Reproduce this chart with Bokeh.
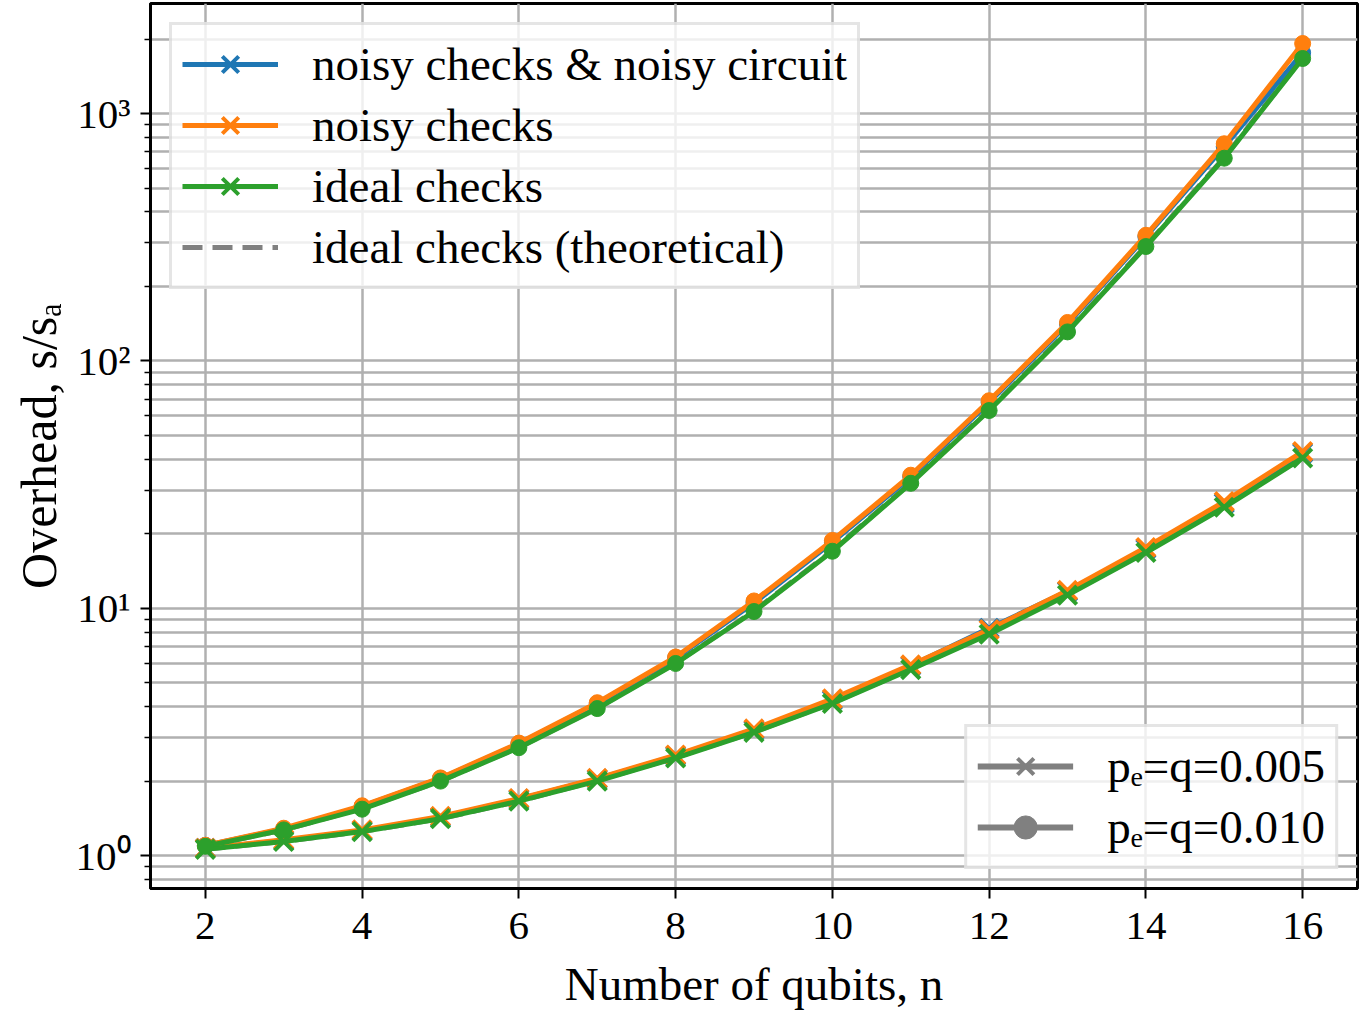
from bokeh.plotting import figure
from bokeh.models import Range1d, FixedTicker, CustomJSTickFormatter, Legend, LegendItem
from bokeh.embed import file_html
from bokeh.resources import INLINE

# ---------------- data ----------------
n_qubits = [2, 3, 4, 5, 6, 7, 8, 9, 10, 11, 12, 13, 14, 15, 16]

# p_e = q = 0.010 (dots)
noisy_full_010 = [1.10, 1.28, 1.58, 2.05, 2.83, 4.12, 6.30, 10.5, 18.5, 34.0, 68.0, 141, 318, 735, 1760]
noisy_checks_010 = [1.10, 1.29, 1.59, 2.06, 2.85, 4.15, 6.35, 10.7, 18.8, 34.5, 69.0, 143, 322, 755, 1920]
ideal_checks_010 = [1.09, 1.27, 1.54, 2.00, 2.73, 3.93, 5.98, 9.70, 17.0, 32.0, 63.0, 131, 290, 660, 1670]
ideal_theory_010 = [1.09, 1.27, 1.55, 2.00, 2.74, 3.95, 6.00, 9.75, 17.1, 32.2, 63.5, 132, 292, 665, 1680]

# p_e = q = 0.005 (crosses)
noisy_full_005 = [1.07, 1.15, 1.26, 1.43, 1.69, 2.04, 2.53, 3.22, 4.25, 5.85, 8.30, 11.7, 17.4, 26.6, 42.5]
noisy_checks_005 = [1.07, 1.16, 1.27, 1.44, 1.70, 2.05, 2.55, 3.25, 4.30, 5.90, 8.20, 11.8, 17.6, 27.0, 43.0]
ideal_checks_005 = [1.06, 1.14, 1.25, 1.41, 1.66, 2.00, 2.48, 3.15, 4.12, 5.65, 7.85, 11.3, 16.8, 25.6, 40.5]
ideal_theory_005 = [1.06, 1.14, 1.25, 1.41, 1.66, 2.01, 2.49, 3.16, 4.14, 5.68, 7.90, 11.4, 16.9, 25.8, 40.8]

series_labels = ["noisy checks & noisy circuit", "noisy checks", "ideal checks", "ideal checks (theoretical)"]
p_labels = ["p\u2091=q=0.005", "p\u2091=q=0.010"]
x_tick_values = [2, 4, 6, 8, 10, 12, 14, 16]
y_tick_values = [1, 10, 100, 1000]
x_label = "Number of qubits, n"
y_label = "Overhead, s/s\u2090"

# ---------------- style ----------------
FONT = "Liberation Serif"
BLUE, ORANGE, GREEN, GRAY = "#1f77b4", "#ff7f0e", "#2ca02c", "#808080"
GRID = "#b0b0b0"
LW = 5
XSIZE = 26
DOTSIZE = 16
NAN = float("nan")

p = figure(width=1359, height=1014, y_axis_type="log",
           x_range=Range1d(1.3, 16.7), y_range=Range1d(0.736, 2786),
           output_backend="svg", toolbar_location=None,
           min_border_left=150, min_border_right=2, min_border_top=3, min_border_bottom=126)

p.background_fill_color = "white"
p.border_fill_color = "white"
p.outline_line_color = "black"
p.outline_line_width = 3

minor = []
for dec in [0.1, 1, 10, 100, 1000]:
    for k in range(2, 10):
        minor.append(dec * k)

p.xaxis.ticker = FixedTicker(ticks=x_tick_values, minor_ticks=[])
p.yaxis.ticker = FixedTicker(ticks=y_tick_values, minor_ticks=minor)
p.yaxis.formatter = CustomJSTickFormatter(code="""
const sup = {'0':'\u2070','1':'\u00b9','2':'\u00b2','3':'\u00b3','4':'\u2074'};
const e = Math.round(Math.log10(tick));
return '10' + String(e).split('').map(c => sup[c]).join('');
""")

p.xgrid.grid_line_color = GRID
p.xgrid.grid_line_width = 2.5
p.ygrid.grid_line_color = GRID
p.ygrid.grid_line_width = 2.5
p.ygrid.minor_grid_line_color = GRID
p.ygrid.minor_grid_line_width = 2.5

for ax in [p.xaxis[0], p.yaxis[0]]:
    ax.axis_line_color = "black"
    ax.axis_line_width = 3
    ax.major_tick_line_color = "black"
    ax.major_tick_line_width = 2
    ax.major_tick_out = 10
    ax.major_tick_in = 0
    ax.minor_tick_line_color = "black"
    ax.minor_tick_line_width = 1.5
    ax.minor_tick_out = 6
    ax.minor_tick_in = 0
    ax.major_label_text_font = FONT
    ax.major_label_text_font_size = "41px"
    ax.major_label_text_color = "black"
    ax.axis_label_text_font = FONT
    ax.axis_label_text_font_style = "normal"
    ax.axis_label_text_color = "black"

p.xaxis.axis_label_text_font_size = "47px"
p.yaxis.axis_label_text_font_size = "50px"
p.xaxis.axis_label = x_label
p.yaxis.axis_label = y_label
p.xaxis.major_label_standoff = 14
p.xaxis.axis_label_standoff = 16
p.yaxis.major_label_standoff = 10
p.yaxis.axis_label_standoff = 6

# theoretical (drawn first, beneath)
th1 = p.line(n_qubits, ideal_theory_005, line_color=GRAY, line_width=LW, line_dash="20 10")
th2 = p.line(n_qubits, ideal_theory_010, line_color=GRAY, line_width=LW, line_dash="20 10")

items = []
for color, s005, s010 in [(BLUE, noisy_full_005, noisy_full_010),
                          (ORANGE, noisy_checks_005, noisy_checks_010),
                          (GREEN, ideal_checks_005, ideal_checks_010)]:
    l1 = p.line(n_qubits, s005, line_color=color, line_width=LW)
    m1 = p.scatter(n_qubits, s005, marker="x", size=XSIZE, line_color=color, line_width=4)
    p.line(n_qubits, s010, line_color=color, line_width=LW)
    p.scatter(n_qubits, s010, marker="circle", size=DOTSIZE, fill_color=color, line_color=color)
    items.append((l1, m1))

leg1_items = [LegendItem(label=series_labels[i], renderers=[items[i][0], items[i][1]]) for i in range(3)]
leg1_items.append(LegendItem(label=series_labels[3], renderers=[th1]))

# legend-only renderers (a single NaN point, never drawn in the plot)
g1 = p.line(x=[NAN], y=[NAN], line_color=GRAY, line_width=LW + 1)
g1m = p.scatter(x=[NAN], y=[NAN], marker="x", size=XSIZE, line_color=GRAY, line_width=4)
g2 = p.line(x=[NAN], y=[NAN], line_color=GRAY, line_width=LW + 1)
g2m = p.scatter(x=[NAN], y=[NAN], marker="circle", size=DOTSIZE, fill_color=GRAY, line_color=GRAY)
leg2_items = [LegendItem(label=p_labels[0], renderers=[g1, g1m]),
              LegendItem(label=p_labels[1], renderers=[g2, g2m])]

def style_legend(lg):
    lg.label_text_font = FONT
    lg.label_text_font_size = "47px"
    lg.label_text_color = "black"
    lg.glyph_width = 96
    lg.glyph_height = 58
    lg.label_height = 46
    lg.label_standoff = 34
    lg.spacing = 3
    lg.padding = 10
    lg.margin = 19
    lg.border_line_color = "#cccccc"
    lg.border_line_width = 3
    lg.background_fill_color = "white"
    lg.background_fill_alpha = 0.8

legend1 = Legend(items=leg1_items, location="top_left")
style_legend(legend1)
legend2 = Legend(items=leg2_items, location="bottom_right")
style_legend(legend2)
p.add_layout(legend1)
p.add_layout(legend2)

open("out.html", "w").write(file_html(p, INLINE))
